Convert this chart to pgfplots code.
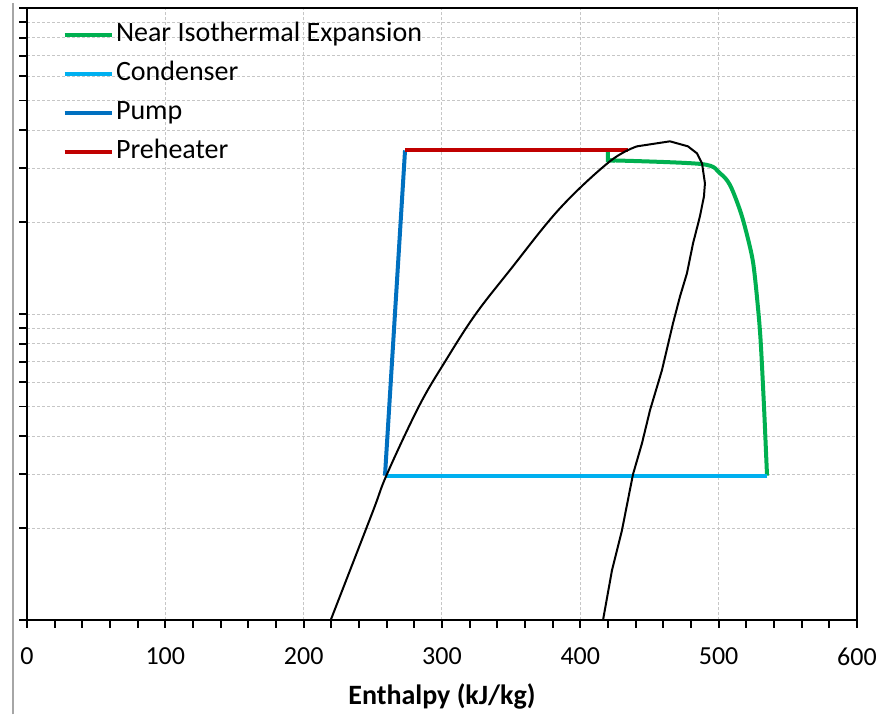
\documentclass[border=0pt]{standalone}
\usepackage{fontspec}
\setmainfont{Carlito}
\usepackage{pgfplots}
\pgfplotsset{compat=1.18}

\definecolor{expgreen}{RGB}{0,176,80}
\definecolor{condcyan}{RGB}{0,176,240}
\definecolor{pumpblue}{RGB}{0,112,192}
\definecolor{heatred}{RGB}{192,0,0}

\begin{document}
\begin{tikzpicture}
\begin{axis}[
  scale only axis,
  width=332pt, height=244.8pt,
  xmin=0, xmax=600,
  ymode=log, ymin=100, ymax=10000,
  xtick={0,100,...,600},
  minor x tick num=4,
  ytick={100,1000,10000},
  minor ytick={200,300,400,500,600,700,800,900,2000,3000,4000,5000,6000,7000,8000,9000},
  yticklabels={},
  tick pos=left,
  tick align=outside,
  major tick length=3pt, minor tick length=3pt,
  tick style={black, line width=0.7pt},
  axis line style={black, line width=0.8pt},
  xmajorgrids, ymajorgrids, yminorgrids,
  grid style={gray!45, line width=0.4pt, dash pattern=on 1.2pt off 0.8pt},
  minor grid style={gray!45, line width=0.4pt, dash pattern=on 1.2pt off 0.8pt},
  /pgf/number format/assume math mode=true,
  ticklabel style={font=\fontsize{10.4}{12}\selectfont},
  xticklabel style={yshift=-4.5pt},
  xlabel={\bfseries Enthalpy (kJ/kg)},
  xlabel style={font=\fontsize{11.2}{13}\selectfont, at={(axis description cs:0.5,-0.124)}, anchor=center},
  clip=false,
  legend cell align=left,
  legend style={draw=none, fill=none, at={(axis description cs:0.0422,0.980)}, anchor=north west,
    font=\fontsize{11.2}{13}\selectfont, inner sep=0pt, row sep=4.6pt,
    nodes={inner xsep=1pt, inner ysep=0pt, text height=8pt, text depth=3pt}},
  legend image code/.code={\draw[#1] (0pt,0pt) -- (18.8pt,0pt);},
]

% near isothermal expansion
\addplot[expgreen, line width=1.6pt, smooth, tension=0.5] coordinates {
  (420.0,3187) (487.7,3098) (501.0,2889) (508.2,2646) (515.4,2192)
  (520.2,1840) (525.0,1468) (528.6,1033) (530.5,800) (532.8,500) (534.2,359) (535.0,297)
};
\addlegendentry{Near Isothermal Expansion}

% condenser
\addplot[condcyan, line width=1.6pt] coordinates {(535.0,297) (258.8,297)};
\addlegendentry{Condenser}

% pump
\addplot[pumpblue, line width=1.6pt] coordinates {(258.8,297) (273.3,3435)};
\addlegendentry{Pump}

% preheater
\addplot[heatred, line width=1.6pt] coordinates {(273.3,3435) (434.5,3435)};
\addlegendentry{Preheater}

% start of expansion (small drop)
\addplot[expgreen, line width=1.6pt, forget plot] coordinates {(420.0,3400) (420.0,3187) (425.0,3180)};
\addplot[heatred, line width=1.6pt, forget plot] coordinates {(400,3435) (434.5,3435)};

% saturation dome: liquid side
\addplot[black, line width=0.8pt, smooth, tension=0.6, forget plot] coordinates {
  (219.5,100) (249.5,223.7) (260.2,300)
  (283.6,503.0) (302.2,700.3) (323.9,994.8)
  (349.2,1395.6) (385.3,2221) (421.4,3162) (441.0,3540)
};
% saturation dome: top and vapour side
\addplot[black, line width=0.8pt, forget plot] coordinates {
  (441.0,3540) (464.8,3676) (477.8,3540) (484.3,3359) (488.0,3115) (490.1,2680)
  (489.4,2430) (486.5,2091) (481.5,1706) (477.1,1362) (472.1,1145) (467.0,934)
  (459.0,656) (450.4,486) (444.6,379) (438.1,300) (430.1,196.8) (422.9,145.7) (416.4,100)
};

% chart area edge and picture extent
\draw[gray!70, line width=0.5pt] (rel axis cs:-0.0169,-0.1536) -- (rel axis cs:-0.0169,1.00817);
\path (rel axis cs:-0.03253,-0.1536) rectangle (rel axis cs:1.0386,1.00817);
\end{axis}
\end{tikzpicture}
\end{document}
